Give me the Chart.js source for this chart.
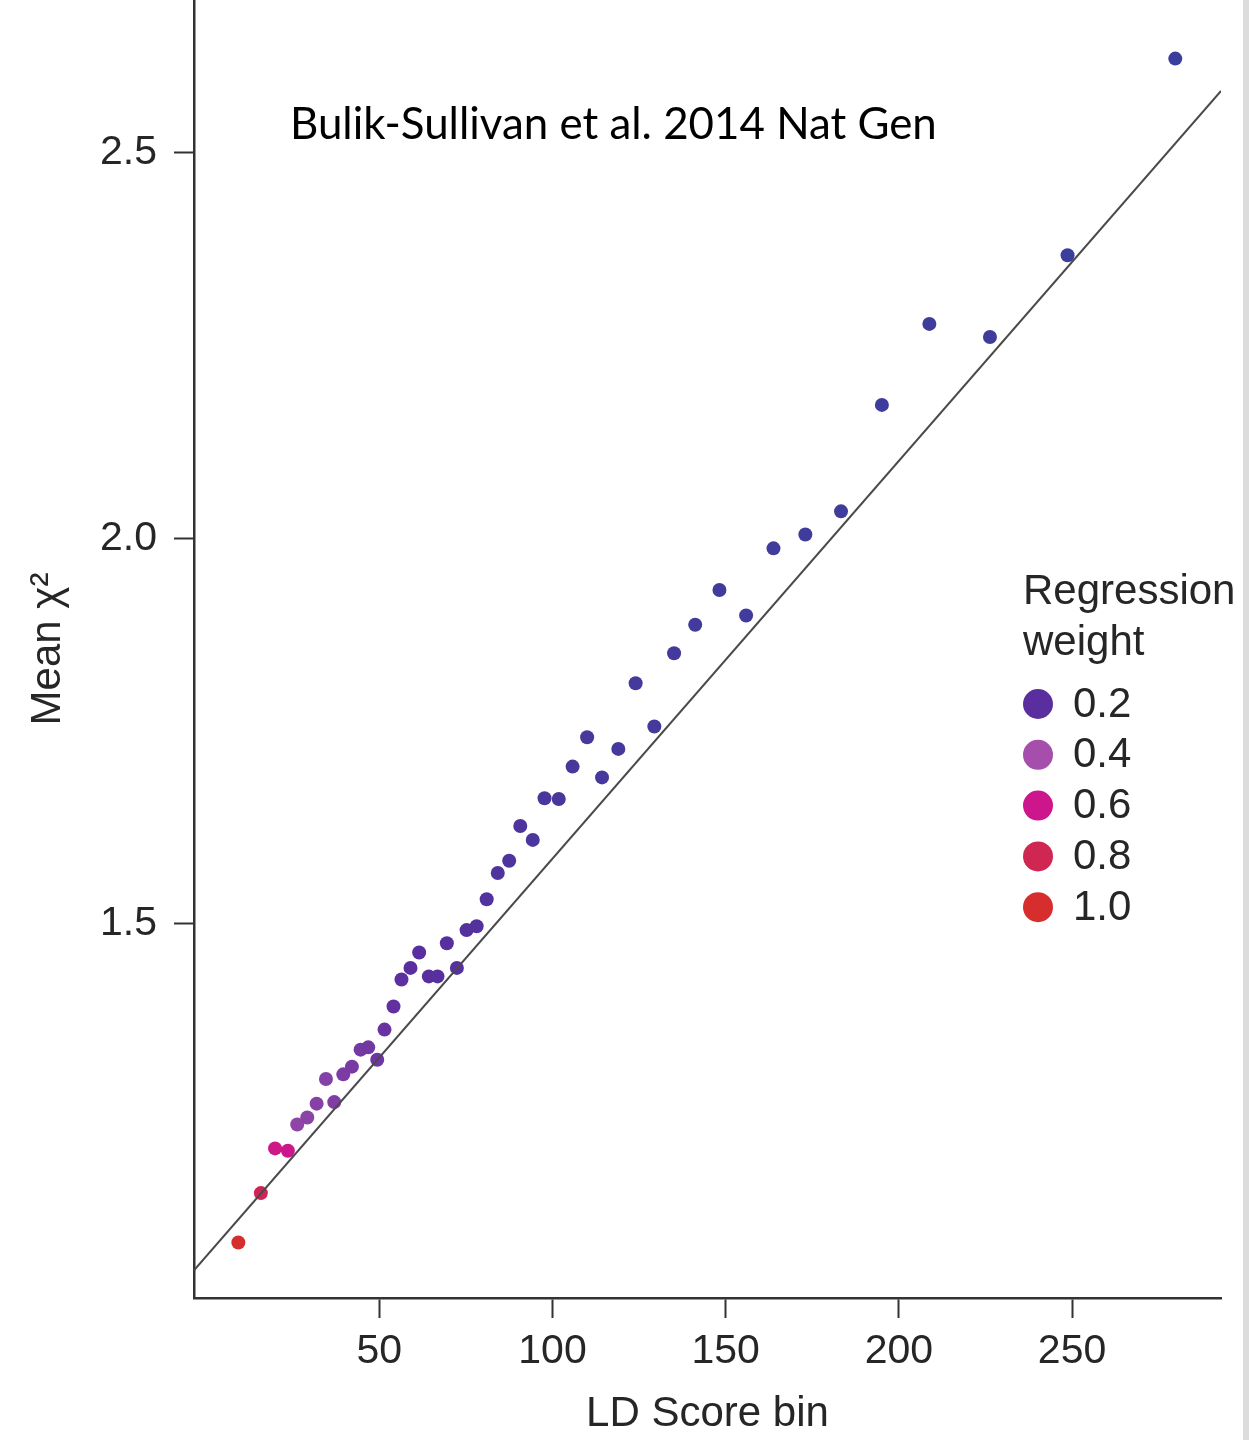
<!DOCTYPE html>
<html>
<head>
<meta charset="utf-8">
<title>Mean chi2 by LD Score bin</title>
<script src="https://cdn.jsdelivr.net/npm/chart.js@4.4.1/dist/chart.umd.min.js"></script>
<style>
html, body { margin: 0; padding: 0; background: #fff; }
#wrap { position: relative; width: 1243px; height: 1440px; border-right: 6px solid #dcdcdc; }
</style>
</head>
<body>
<div id="wrap"><canvas id="ldChart"></canvas></div>
<script>
// LD Score bin (x), mean chi^2 (y) and regression weight of each bin
const ldScoreBin = [9.3, 15.8, 19.9, 23.6, 26.3, 29.2, 31.9, 34.6, 37.0, 39.6,
    42.1, 44.6, 46.8, 49.4, 51.5, 54.1, 56.4, 59.0, 61.5, 64.3,
    66.8, 69.5, 72.4, 75.2, 78.1, 81.0, 84.2, 87.5, 90.7, 94.3,
    97.7, 101.8, 105.8, 110.0, 114.3, 119.0, 124.0, 129.4, 135.1, 141.2,
    148.2, 155.9, 163.8, 173.0, 183.3, 195.1, 208.8, 226.3, 248.7, 279.8];
const meanChi2 = [1.087, 1.151, 1.209, 1.206, 1.240, 1.249, 1.267, 1.299, 1.269, 1.305,
    1.315, 1.337, 1.340, 1.324, 1.363, 1.393, 1.428, 1.443, 1.463, 1.432,
    1.432, 1.475, 1.443, 1.492, 1.497, 1.532, 1.566, 1.582, 1.627, 1.609,
    1.663, 1.662, 1.704, 1.742, 1.690, 1.727, 1.812, 1.756, 1.851, 1.888,
    1.933, 1.900, 1.987, 2.005, 2.035, 2.173, 2.278, 2.261, 2.367, 2.622];
const regWeight = [1.0, 0.78, 0.62, 0.6, 0.34, 0.33, 0.32, 0.31, 0.3, 0.29,
    0.28, 0.27, 0.26, 0.25, 0.24, 0.22, 0.21, 0.2, 0.2, 0.19,
    0.18, 0.17, 0.17, 0.16, 0.15, 0.14, 0.13, 0.12, 0.11, 0.1,
    0.1, 0.09, 0.08, 0.08, 0.07, 0.06, 0.06, 0.05, 0.05, 0.04,
    0.04, 0.03, 0.03, 0.02, 0.02, 0.01, 0.01, 0.01, 0.0, 0.0];

// fitted regression line, end points at the axis limits
const fitLineX = [-3.5, 293];
const fitLineY = [1.051, 2.580];

const xTicks = [50, 100, 150, 200, 250];
const yTicks = [1.5, 2.0, 2.5];
const legendWeights = [0.2, 0.4, 0.6, 0.8, 1.0];
const citation = 'Bulik-Sullivan et al. 2014 Nat Gen';

// colour scale for the weights (blue -> purple -> magenta -> red)
const weightStops = [
    [0.0, [60, 62, 155]],
    [0.2, [90, 46, 158]],
    [0.4, [165, 78, 172]],
    [0.6, [205, 22, 140]],
    [0.8, [208, 38, 82]],
    [1.0, [214, 46, 44]]
];

const weightColor = (w) => {
    for (let i = 1; i < weightStops.length; i++) {
        const [w1, c1] = weightStops[i];
        const [w0, c0] = weightStops[i - 1];
        if (w <= w1) {
            const t = (w - w0) / (w1 - w0);
            const c = c0.map((v, k) => Math.round(v + (c1[k] - v) * t));
            return `rgb(${c[0]}, ${c[1]}, ${c[2]})`;
        }
    }
    const c = weightStops[weightStops.length - 1][1];
    return `rgb(${c[0]}, ${c[1]}, ${c[2]})`;
};

const textColor = '#262626';
const sansFont = '"Liberation Sans", Arial, Helvetica, sans-serif';

// legend for the weights and the citation text
const weightLegend = {
    id: 'weightLegend',
    afterDraw(chart) {
        const ctx = chart.ctx;
        ctx.save();
        ctx.font = `42px ${sansFont}`;
        ctx.textAlign = 'left';
        ctx.textBaseline = 'middle';
        ctx.fillStyle = textColor;
        ctx.fillText('Regression', 1023, 592);
        ctx.fillText('weight', 1023, 643);
        legendWeights.forEach((w, i) => {
            const y = 704 + i * 50.8;
            ctx.beginPath();
            ctx.arc(1038, y, 15, 0, Math.PI * 2);
            ctx.fillStyle = weightColor(w);
            ctx.fill();
            ctx.fillStyle = textColor;
            ctx.fillText(w.toFixed(1), 1073, y + 1);
        });

        // citation, sized to the width it has in the figure
        let size = 46;
        ctx.font = `${size}px Lato, "Open Sans", sans-serif`;
        size = size * 647 / ctx.measureText(citation).width;
        ctx.font = `${size}px Lato, "Open Sans", sans-serif`;
        ctx.fillStyle = '#000';
        ctx.textBaseline = 'alphabetic';
        ctx.fillText(citation, 290, 139);
        ctx.restore();
    }
};

const tickFont = { family: sansFont, size: 41 };
const titleFont = { family: sansFont, size: 42 };

new Chart(document.getElementById('ldChart'), {
    type: 'scatter',
    data: {
        datasets: [
            {
                type: 'line',
                label: 'Regression',
                data: fitLineX.map((x, i) => ({ x: x, y: fitLineY[i] })),
                showLine: true,
                borderColor: '#4a4a4a',
                borderWidth: 2,
                pointRadius: 0,
                fill: false
            },
            {
                label: 'LD Score bins',
                data: ldScoreBin.map((x, i) => ({ x: x, y: meanChi2[i] })),
                pointRadius: 7,
                pointBackgroundColor: regWeight.map(weightColor),
                pointBorderWidth: 0,
                borderWidth: 0
            }
        ]
    },
    options: {
        responsive: true,
        maintainAspectRatio: false,
        animation: false,
        layout: { autoPadding: false, padding: { left: 0, right: 22, top: 0, bottom: 0 } },
        plugins: {
            legend: { display: false },
            tooltip: { enabled: false }
        },
        scales: {
            x: {
                type: 'linear',
                min: -3.5,
                max: 293,
                afterBuildTicks: (s) => { s.ticks = xTicks.map(v => ({ value: v })); },
                afterFit: (s) => { s.height = 142; s.paddingLeft = 0; s.paddingRight = 0; },
                grid: { drawOnChartArea: false, drawTicks: true, tickLength: 20, tickWidth: 2, tickColor: '#333' },
                border: { display: true, color: '#333', width: 2.5 },
                ticks: { font: tickFont, color: textColor, padding: 9, maxRotation: 0 },
                title: { display: true, text: 'LD Score bin', font: titleFont, color: textColor, padding: { top: 0, bottom: 0 } }
            },
            y: {
                type: 'linear',
                min: 1.015,
                max: 2.698,
                afterBuildTicks: (s) => { s.ticks = yTicks.map(v => ({ value: v })); },
                afterFit: (s) => { s.width = 194; s.paddingTop = 0; s.paddingBottom = 0; },
                grid: { drawOnChartArea: false, drawTicks: true, tickLength: 20, tickWidth: 2, tickColor: '#333' },
                border: { display: true, color: '#333', width: 2.5 },
                ticks: {
                    font: tickFont,
                    color: textColor,
                    padding: 17,
                    callback: (v) => v.toFixed(1)
                },
                title: { display: true, text: 'Mean χ²', font: titleFont, color: textColor, padding: { top: 23, bottom: 0 } }
            }
        }
    },
    plugins: [weightLegend]
});
</script>
</body>
</html>
